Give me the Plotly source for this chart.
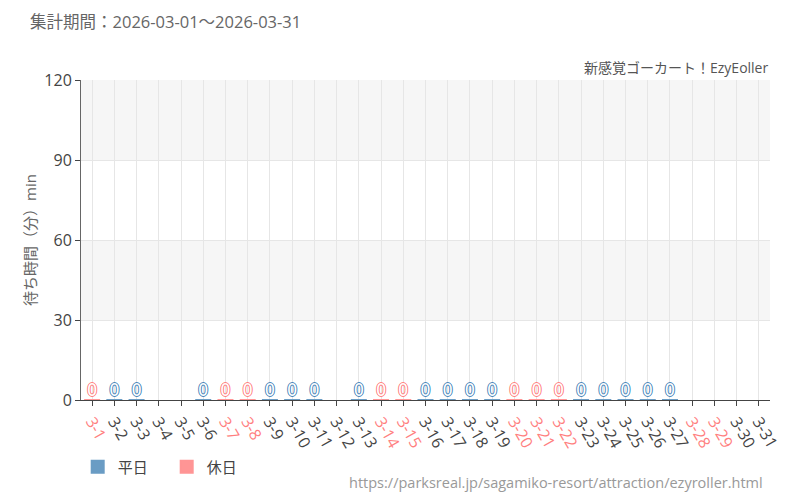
import plotly.graph_objects as go

# data: March 2026, wait time in minutes
days = [f"3-{d}" for d in range(1, 32)]
holidays = ["3-1", "3-7", "3-8", "3-14", "3-15", "3-20", "3-21", "3-22", "3-28", "3-29"]
weekday_wait = [None, 0, 0, None, None, 0, None, None, 0, 0, 0, None, 0, None, None,
                0, 0, 0, 0, None, None, None, 0, 0, 0, 0, 0, None, None, None, None]
holiday_wait = [0, None, None, None, None, None, 0, 0, None, None, None, None, None, 0, 0,
                None, None, None, None, 0, 0, 0, None, None, None, None, None, None, None, None, None]
y_ticks = [0, 30, 60, 90, 120]

BLUE = "#6a9cc4"
RED = "#ff9595"
BLUE_TXT = "#4a86ba"
RED_TXT = "#ff7f7f"
FONT = "Open Sans, Noto Sans CJK JP, sans-serif"
NARROW = "DejaVu Sans Condensed, sans-serif"


def outline(c):
    return f"-1px 0 {c}, 1px 0 {c}, 0 -1px {c}, 0 1px {c}"


fig = go.Figure()
fig.add_bar(x=days, y=weekday_wait, name="平日", marker_color=BLUE,
            marker_line=dict(color=BLUE, width=2), width=0.72)
fig.add_bar(x=days, y=holiday_wait, name="休日", marker_color=RED,
            marker_line=dict(color=RED, width=2), width=0.72)

# value labels above bars
for vals, col in [(weekday_wait, BLUE_TXT), (holiday_wait, RED_TXT)]:
    xs = [d for d, v in zip(days, vals) if v is not None]
    ys = [v for v in vals if v is not None]
    fig.add_scatter(x=xs, y=ys, mode="text", text=[str(v) for v in ys],
                    textposition="top center", showlegend=False, hoverinfo="skip",
                    textfont=dict(color="white", size=18, family=NARROW, shadow=outline(col)))

tick_text = [f"<span style='color:{RED_TXT}'>{d}</span>" if d in holidays else d for d in days]

# alternating background bands
for y0, y1 in [(30, 60), (90, 120)]:
    fig.add_shape(type="rect", xref="paper", yref="y", x0=0, x1=1, y0=y0, y1=y1,
                  fillcolor="#f6f6f6", line_width=0, layer="below")

# page body has an 8px margin, so the figure is 8px smaller and shifted
fig.update_layout(
    width=792, height=492,
    barmode="overlay",
    plot_bgcolor="white", paper_bgcolor="white",
    font=dict(family=FONT, color="#555"),
    margin=dict(l=73, r=30, t=72, b=100, autoexpand=False),
    title=dict(text="集計期間：2026-03-01～2026-03-31", x=0.0278, xanchor="left",
               yref="container", y=0.9715, yanchor="middle", font=dict(size=16.5, color="#666")),
    legend=dict(orientation="h", xref="container", x=0.088, xanchor="left",
                yref="container", y=0.067, yanchor="middle",
                font=dict(size=15, color="#444"), bgcolor="rgba(0,0,0,0)",
                entrywidth=44, entrywidthmode="pixels"),
    showlegend=True,
)
fig.update_xaxes(
    tickmode="array", tickvals=days, ticktext=tick_text, tickangle=60,
    tickfont=dict(size=16, color="#444"), automargin=False,
    showgrid=True, gridcolor="#e6e6e6", gridwidth=1,
    showline=True, linecolor="#444", linewidth=1,
    ticks="outside", ticklen=5, tickcolor="#444",
    range=[-0.5, 30.5], fixedrange=True,
)
fig.update_yaxes(
    range=[0, 120], tickvals=y_ticks, automargin=False,
    tickfont=dict(size=16, color="#444"),
    showgrid=True, gridcolor="#e6e6e6",
    showline=True, linecolor="#666", linewidth=1,
    ticks="outside", ticklen=5, tickcolor="#444",
    title=dict(text="待ち時間（分）min", font=dict(size=15, color="#666"), standoff=4),
    zeroline=False,
)
fig.add_annotation(text="新感覚ゴーカート！EzyEoller", xref="paper", yref="paper",
                   x=1, y=1.04, xanchor="right", yanchor="middle", showarrow=False,
                   font=dict(size=14, color="#555"))
fig.add_annotation(text="https://parksreal.jp/sagamiko-resort/attraction/ezyroller.html",
                   xref="paper", yref="paper", x=0.993, y=-0.259, xanchor="right",
                   yanchor="middle", showarrow=False, font=dict(size=14.5, color="#999"))

fig.write_html("out.html")
